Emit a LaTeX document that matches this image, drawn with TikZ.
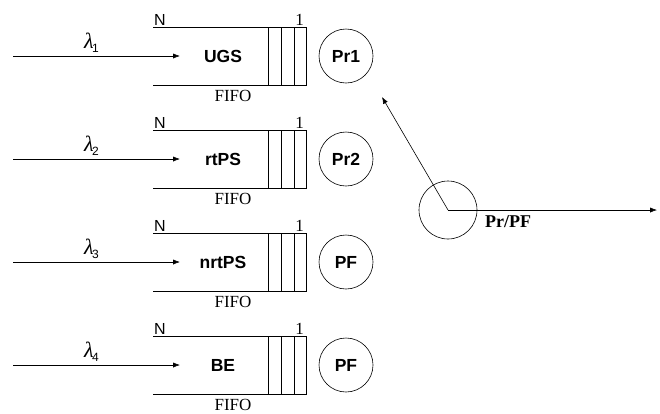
\documentclass[tikz,border=0pt]{standalone}
\usepackage{fontspec}
\setmainfont{Liberation Serif}
\setsansfont{Liberation Sans}
\usepackage{tikz}
\usetikzlibrary{arrows.meta}
\tikzset{
  ar/.style={-{Latex[length=2.4mm,width=1.8mm]},line width=0.6pt},
  qline/.style={line width=0.6pt},
  qname/.style={font=\fontsize{17.5}{20}\selectfont\sffamily\bfseries},
  srv/.style={circle,draw,line width=0.6pt,minimum size=54pt,inner sep=0pt,font=\fontsize{17.5}{20}\selectfont\sffamily\bfseries},
  tag/.style={inner sep=1pt,font=\fontsize{17}{19}\selectfont},
  lam/.style={inner sep=1pt}
}
\newcommand{\lamsub}[1]{{\fontsize{22}{22}\selectfont\textit{λ}}\kern-1.5pt\raisebox{-4pt}{\fontsize{12}{13}\selectfont\sffamily #1}}
\begin{document}
\begin{tikzpicture}[x=1pt,y=-1pt]
\useasboundingbox (0,0) rectangle (660,413);
\foreach \name/\serv [count=\n from 1] in {UGS/Pr1,rtPS/Pr2,nrtPS/PF,BE/PF}{
  \pgfmathsetmacro\ym{56+103*(\n-1)}
  \coordinate (tl\n) at (153,\ym-29);
  \coordinate (tr\n) at (306,\ym-29);
  \coordinate (br\n) at (306,\ym+29);
  \coordinate (bl\n) at (153,\ym+29);
  \draw[qline] (tl\n) -- (tr\n) -- (br\n) -- (bl\n);
  \foreach \x in {268,281,294}{\draw[qline] (\x,\ym-29) -- (\x,\ym+29);}
  \node[tag,anchor=south west,font=\fontsize{16}{18}\selectfont\sffamily] (nn\n) at (tl\n) {N};
  \node[tag,anchor=south east] (one\n) at ([xshift=-1pt]tr\n) {1};
  \node[tag,inner sep=0pt,font=\fontsize{17}{19}\selectfont] (fifo\n) at (233,\ym+40) {FIFO};
  \node[qname] (q\n) at (223,\ym) {\name};
  \node[srv] (srv\n) at (346,\ym) {\serv};
  \coordinate (src\n) at (13,\ym);
  \coordinate (in\n) at (180,\ym);
  \draw[ar] (src\n) -- node[lam,above=2pt,pos=0.47] (lam\n) {\lamsub{\n}} (in\n);
}
% scheduler
\node[circle,draw,line width=0.6pt,minimum size=58pt,inner sep=0pt] (sched) at (448,210) {};
\coordinate (out) at (657,210);
\coordinate (back) at (382,97);
\draw[ar] (sched.center) -- (out);
\draw[ar] (sched.center) -- (back);
\node[tag,font=\fontsize{18}{20}\selectfont\bfseries] (mode) at (508,222) {Pr/PF};
\end{tikzpicture}
\end{document}
